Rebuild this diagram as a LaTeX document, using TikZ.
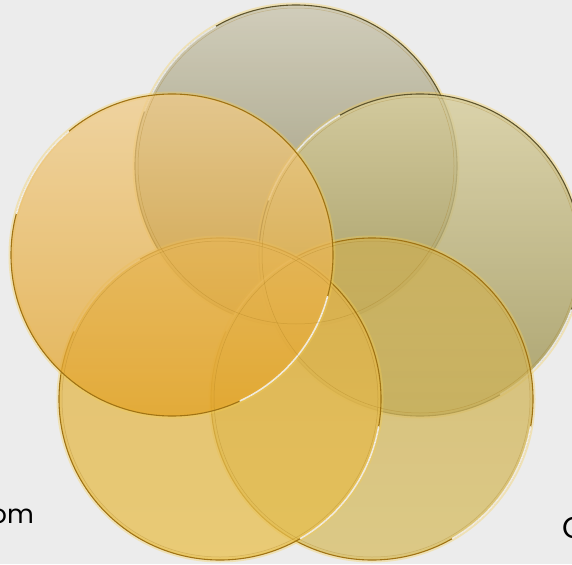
\documentclass[tikz,border=0pt]{standalone}
\usepackage{fontspec}
\setmainfont{Poppins}
\begin{document}
\begin{tikzpicture}[x=1pt,y=-1pt]
\definecolor{bgc}{RGB}{236,236,236}
\definecolor{edgegold}{RGB}{160,115,20}
\definecolor{edgeolive}{RGB}{95,85,45}
\definecolor{glowc}{RGB}{245,205,80}
\tikzset{
  glow/.style={draw=glowc, line width=5pt, draw opacity=0.35},
  rim/.style={draw=#1, line width=1.1pt},
  shine/.style={draw=white, line width=1.6pt, draw opacity=0.85, line cap=round},
  lbl/.style={text=black, inner sep=0pt}
}
\clip (0,0) rectangle (572,564);
\fill[bgc] (0,0) rectangle (572,564);
\useasboundingbox (0,0) rectangle (572,564);
\coordinate (ct) at (296,166);
\coordinate (cul) at (172,255);
\coordinate (cur) at (420,255);
\coordinate (cbl) at (220,399);
\coordinate (cbr) at (372,399);
\def\R{161}
% top circle
\path[glow] (ct) circle[radius=\R];
\shade[top color={rgb,255:red,205;green,201;blue,180}, bottom color={rgb,255:red,135;green,130;blue,92}, fill opacity=0.88] (ct) circle[radius=\R];
\path[rim=edgeolive] (ct) circle[radius=\R];
\draw[shine] (ct) ++(200:\R) arc[start angle=200, end angle=240, radius=\R];
% upper right
\path[glow] (cur) circle[radius=\R];
\shade[top color={rgb,255:red,215;green,205;blue,155}, bottom color={rgb,255:red,155;green,145;blue,80}, fill opacity=0.8] (cur) circle[radius=\R];
\path[rim=edgeolive] (cur) circle[radius=\R];
\draw[shine] (cur) ++(200:\R) arc[start angle=200, end angle=240, radius=\R];
\draw[shine] (cur) ++(20:\R) arc[start angle=20, end angle=60, radius=\R];
% bottom right
\path[glow] (cbr) circle[radius=\R];
\shade[top color={rgb,255:red,205;green,175;blue,85}, bottom color={rgb,255:red,215;green,190;blue,100}, fill opacity=0.75] (cbr) circle[radius=\R];
\path[rim=edgegold] (cbr) circle[radius=\R];
\draw[shine] (cbr) ++(10:\R) arc[start angle=10, end angle=60, radius=\R];
\draw[shine] (cbr) ++(205:\R) arc[start angle=205, end angle=240, radius=\R];
% bottom left
\path[glow] (cbl) circle[radius=\R];
\shade[top color={rgb,255:red,222;green,176;blue,75}, bottom color={rgb,255:red,232;green,192;blue,78}, fill opacity=0.75] (cbl) circle[radius=\R];
\path[rim=edgegold] (cbl) circle[radius=\R];
\draw[shine] (cbl) ++(10:\R) arc[start angle=10, end angle=60, radius=\R];
\draw[shine] (cbl) ++(205:\R) arc[start angle=205, end angle=240, radius=\R];
% upper left
\path[glow] (cul) circle[radius=\R];
\shade[top color={rgb,255:red,240;green,203;blue,135}, bottom color={rgb,255:red,226;green,162;blue,38}, fill opacity=0.75] (cul) circle[radius=\R];
\path[rim=edgegold] (cul) circle[radius=\R];
\draw[shine] (cul) ++(15:\R) arc[start angle=15, end angle=65, radius=\R];
\draw[shine] (cul) ++(195:\R) arc[start angle=195, end angle=230, radius=\R];
% faint rims seen through
\foreach \c in {ct,cur,cbr,cbl}{\draw[edgegold, line width=0.5pt, draw opacity=0.3] (\c) circle[radius=\R-3];}
% texts
\node[lbl, anchor=base east, font=\fontsize{26}{30}\selectfont] (t1) at (34,523) {om};
\node[lbl, anchor=base west, font=\fontsize{30}{34}\selectfont] (t2) at (562,538) {C};
\end{tikzpicture}
\end{document}
